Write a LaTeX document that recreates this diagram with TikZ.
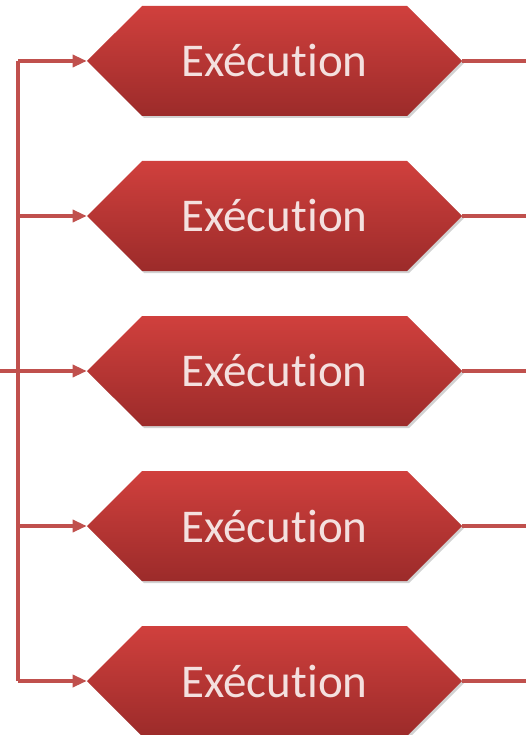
\documentclass[tikz,border=0pt]{standalone}
\usepackage{fontspec}
\setmainfont[Ligatures=NoCommon]{Carlito}
\usetikzlibrary{shapes.symbols,arrows.meta,shadows}
\definecolor{linered}{HTML}{C0504D}
\definecolor{hextop}{HTML}{D0403D}
\definecolor{hexbot}{HTML}{9C2B2A}
\definecolor{hextext}{HTML}{F4E0DF}
\tikzset{
  hexbox/.style={shape=signal, signal to=east and west, signal pointer angle=90,
    minimum width=375pt, minimum height=110pt, inner sep=0pt,
    top color=hextop, bottom color=hexbot, draw=none,
    drop shadow={shadow xshift=2pt, shadow yshift=-2pt, fill=black!35, opacity=0.5},
    text=hextext, font=\fontsize{47}{52}\selectfont},
  conn/.style={draw=linered, line width=3.2pt},
  arr/.style={conn, -{Triangle[length=14pt,width=12pt]}}
}
\begin{document}
\begin{tikzpicture}[x=1pt,y=-1pt]
\useasboundingbox (0,0) rectangle (526,735);
\foreach \i/\yy in {1/61,2/216,3/371,4/526,5/681}{
  \node[hexbox] (h\i) at (274.5,\yy) {\raisebox{-2pt}{Exécut\kern0pt ion}};
  \coordinate (r\i) at (526,\yy);
  \coordinate (l\i) at (18,\yy);
}
\coordinate (in) at (0,371);
\draw[conn] (l1) -- (l5);
\draw[conn] (in) -- (l3);
\foreach \i in {1,...,5}{
  \draw[arr] (l\i) -- (h\i.west);
  \draw[conn] (h\i.east) -- (r\i);
}
\end{tikzpicture}
\end{document}
